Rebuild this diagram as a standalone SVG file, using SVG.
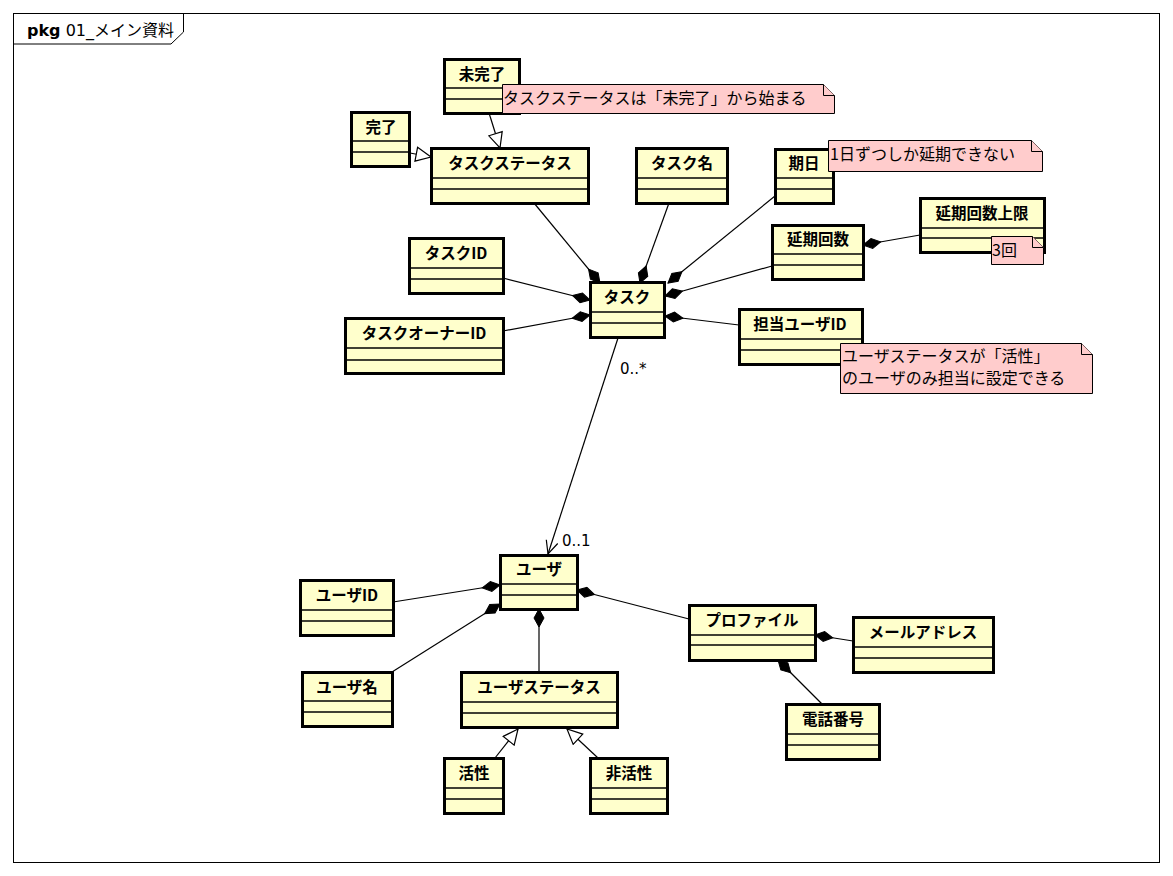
<svg xmlns="http://www.w3.org/2000/svg" width="1173" height="876" viewBox="0 0 1173 876">
  <style>
    .frame { fill: #ffffff; stroke: #000000; stroke-width: 1; }
    .cls rect { fill: #ffffcc; stroke: #000000; stroke-width: 3; }
    .cls line { stroke: #000000; stroke-width: 1.5; }
    .cls text { font-family: "Noto Sans CJK JP", "DejaVu Sans", sans-serif; font-weight: bold; font-size: 15.5px; text-anchor: middle; fill: #000000; }
    .note path { fill: #ffcccc; stroke: #000000; stroke-width: 1; }
    .note text { font-family: "Noto Sans CJK JP", "DejaVu Sans", sans-serif; font-size: 16px; fill: #000000; }
    .conn path { fill: none; stroke: #000000; stroke-width: 1.2; }
    .mult { font-family: "DejaVu Sans", "Noto Sans CJK JP", sans-serif; font-size: 15px; fill: #000000; }
    .title { font-family: "DejaVu Sans", "Noto Sans CJK JP", sans-serif; font-size: 16px; fill: #000000; }
  </style>
  <defs>
    <marker id="diamond" markerUnits="userSpaceOnUse" markerWidth="20" markerHeight="12" refX="19" refY="6" orient="auto">
      <path d="M1,6 L10,1 L19,6 L10,11 z" fill="#000000" stroke="#000000" stroke-width="1"/>
    </marker>
    <marker id="gen" markerUnits="userSpaceOnUse" markerWidth="18" markerHeight="16" refX="16" refY="8" orient="auto">
      <path d="M1,1 L16,8 L1,15 z" fill="#ffffff" stroke="#000000" stroke-width="1.2"/>
    </marker>
    <marker id="open" markerUnits="userSpaceOnUse" markerWidth="16" markerHeight="14" refX="14" refY="7" orient="auto">
      <path d="M1,1 L14,7 L1,13" fill="none" stroke="#000000" stroke-width="1.2"/>
    </marker>
  </defs>

  <!-- package frame -->
  <g id="package">
    <rect class="frame" x="13.5" y="13.5" width="1146" height="849"/>
    <path d="M13.5,44 L171,44 L183.5,32 L183.5,13.5" fill="none" stroke="#000000" stroke-width="1"/>
    <text class="title" x="27" y="36"><tspan font-weight="bold">pkg</tspan> 01_メイン資料</text>
  </g>

  <!-- connectors -->
  <g id="connectors" class="conn">
    <!-- generalizations -->
    <path d="M489,113 L500,148" marker-end="url(#gen)"/>
    <path d="M410,153 L431,157" marker-end="url(#gen)"/>
    <path d="M495,758 L518,729" marker-end="url(#gen)"/>
    <path d="M598,758 L567,729" marker-end="url(#gen)"/>
    <!-- compositions into タスク -->
    <path d="M534,203 L600,283" marker-end="url(#diamond)"/>
    <path d="M669,203 L640,283" marker-end="url(#diamond)"/>
    <path d="M775,196 L668,283" marker-end="url(#diamond)"/>
    <path d="M772,266 L665,296" marker-end="url(#diamond)"/>
    <path d="M739,325 L665,316" marker-end="url(#diamond)"/>
    <path d="M503,278 L590,300" marker-end="url(#diamond)"/>
    <path d="M503,331 L590,315" marker-end="url(#diamond)"/>
    <!-- 延期回数上限 into 延期回数 -->
    <path d="M920,235 L863,245" marker-end="url(#diamond)"/>
    <!-- タスク to ユーザ association -->
    <path d="M618,338 L548,554" marker-end="url(#open)"/>
    <!-- compositions into ユーザ -->
    <path d="M393,602 L500,585" marker-end="url(#diamond)"/>
    <path d="M392,672 L500,604" marker-end="url(#diamond)"/>
    <path d="M539,672 L539,609" marker-end="url(#diamond)"/>
    <path d="M689,619 L577,590" marker-end="url(#diamond)"/>
    <!-- compositions into プロファイル -->
    <path d="M853,641 L815,635" marker-end="url(#diamond)"/>
    <path d="M822,704 L778,660" marker-end="url(#diamond)"/>
  </g>
  <text class="mult" x="620" y="374">0..*</text>
  <text class="mult" x="562" y="546">0..1</text>

  <!-- classes -->
  <g id="mikanryo" class="cls">
    <rect x="444.5" y="59.5" width="75" height="54"/>
    <line x1="444" y1="88" x2="519" y2="88"/><line x1="444" y1="99" x2="519" y2="99"/>
    <text x="482" y="80">未完了</text>
  </g>
  <g id="kanryo" class="cls">
    <rect x="351.5" y="112.5" width="58" height="54"/>
    <line x1="351" y1="141" x2="409" y2="141"/><line x1="351" y1="152" x2="409" y2="152"/>
    <text x="381" y="133">完了</text>
  </g>
  <g id="task-status" class="cls">
    <rect x="431.5" y="148.5" width="157" height="55"/>
    <line x1="431" y1="178" x2="588" y2="178"/><line x1="431" y1="189" x2="588" y2="189"/>
    <text x="510" y="169">タスクステータス</text>
  </g>
  <g id="task-name" class="cls">
    <rect x="636.5" y="148.5" width="91" height="55"/>
    <line x1="636" y1="178" x2="727" y2="178"/><line x1="636" y1="189" x2="727" y2="189"/>
    <text x="682" y="169">タスク名</text>
  </g>
  <g id="kijitsu" class="cls">
    <rect x="775.5" y="149.5" width="58" height="54"/>
    <line x1="775" y1="178" x2="833" y2="178"/><line x1="775" y1="189" x2="833" y2="189"/>
    <text x="804" y="169">期日</text>
  </g>
  <g id="enki-limit" class="cls">
    <rect x="920.5" y="198.5" width="124" height="54"/>
    <line x1="920" y1="228" x2="1044" y2="228"/><line x1="920" y1="238" x2="1044" y2="238"/>
    <text x="982" y="219">延期回数上限</text>
  </g>
  <g id="enki-count" class="cls">
    <rect x="772.5" y="225.5" width="91" height="54"/>
    <line x1="772" y1="254" x2="863" y2="254"/><line x1="772" y1="265" x2="863" y2="265"/>
    <text x="818" y="245">延期回数</text>
  </g>
  <g id="task-id" class="cls">
    <rect x="409.5" y="238.5" width="94" height="55"/>
    <line x1="409" y1="268" x2="503" y2="268"/><line x1="409" y1="279" x2="503" y2="279"/>
    <text x="456" y="259">タスクID</text>
  </g>
  <g id="task-owner-id" class="cls">
    <rect x="345.5" y="318.5" width="158" height="55"/>
    <line x1="345" y1="348" x2="503" y2="348"/><line x1="345" y1="360" x2="503" y2="360"/>
    <text x="424" y="339">タスクオーナーID</text>
  </g>
  <g id="task" class="cls">
    <rect x="590.5" y="282.5" width="74" height="55"/>
    <line x1="590" y1="312" x2="664" y2="312"/><line x1="590" y1="323" x2="664" y2="323"/>
    <text x="627" y="303">タスク</text>
  </g>
  <g id="assignee-id" class="cls">
    <rect x="739.5" y="309.5" width="123" height="55"/>
    <line x1="739" y1="339" x2="862" y2="339"/><line x1="739" y1="350" x2="862" y2="350"/>
    <text x="800" y="330">担当ユーザID</text>
  </g>
  <g id="user" class="cls">
    <rect x="500.5" y="555.5" width="77" height="54"/>
    <line x1="500" y1="584" x2="577" y2="584"/><line x1="500" y1="595" x2="577" y2="595"/>
    <text x="539" y="575">ユーザ</text>
  </g>
  <g id="user-id" class="cls">
    <rect x="300.5" y="580.5" width="93" height="55"/>
    <line x1="300" y1="610" x2="393" y2="610"/><line x1="300" y1="621" x2="393" y2="621"/>
    <text x="347" y="601">ユーザID</text>
  </g>
  <g id="user-name" class="cls">
    <rect x="302.5" y="672.5" width="90" height="54"/>
    <line x1="302" y1="701" x2="392" y2="701"/><line x1="302" y1="712" x2="392" y2="712"/>
    <text x="347" y="693">ユーザ名</text>
  </g>
  <g id="user-status" class="cls">
    <rect x="461.5" y="672.5" width="156" height="55"/>
    <line x1="461" y1="702" x2="617" y2="702"/><line x1="461" y1="713" x2="617" y2="713"/>
    <text x="539" y="693">ユーザステータス</text>
  </g>
  <g id="profile" class="cls">
    <rect x="689.5" y="605.5" width="126" height="55"/>
    <line x1="689" y1="635" x2="815" y2="635"/><line x1="689" y1="645" x2="815" y2="645"/>
    <text x="752" y="626">プロファイル</text>
  </g>
  <g id="mail" class="cls">
    <rect x="853.5" y="617.5" width="140" height="55"/>
    <line x1="853" y1="647" x2="993" y2="647"/><line x1="853" y1="658" x2="993" y2="658"/>
    <text x="923" y="638">メールアドレス</text>
  </g>
  <g id="phone" class="cls">
    <rect x="786.5" y="704.5" width="93" height="55"/>
    <line x1="786" y1="734" x2="879" y2="734"/><line x1="786" y1="745" x2="879" y2="745"/>
    <text x="833" y="725">電話番号</text>
  </g>
  <g id="active" class="cls">
    <rect x="444.5" y="758.5" width="59" height="55"/>
    <line x1="444" y1="788" x2="503" y2="788"/><line x1="444" y1="799" x2="503" y2="799"/>
    <text x="474" y="779">活性</text>
  </g>
  <g id="inactive" class="cls">
    <rect x="590.5" y="758.5" width="77" height="55"/>
    <line x1="590" y1="788" x2="667" y2="788"/><line x1="590" y1="799" x2="667" y2="799"/>
    <text x="629" y="779">非活性</text>
  </g>

  <!-- notes -->
  <g id="note-status-start" class="note">
    <path d="M502.5,84.5 L823.5,84.5 L834.5,95.5 L834.5,113.5 L502.5,113.5 z"/>
    <path d="M823.5,84.5 L823.5,95.5 L834.5,95.5"/>
    <text x="503" y="104">タスクステータスは「未完了」から始まる</text>
  </g>
  <g id="note-one-day" class="note">
    <path d="M828.5,140.5 L1031.5,140.5 L1042.5,151.5 L1042.5,171.5 L828.5,171.5 z"/>
    <path d="M1031.5,140.5 L1031.5,151.5 L1042.5,151.5"/>
    <text x="830" y="160">1日ずつしか延期できない</text>
  </g>
  <g id="note-three" class="note">
    <path d="M991.5,236.5 L1032.5,236.5 L1043.5,247.5 L1043.5,264.5 L991.5,264.5 z"/>
    <path d="M1032.5,236.5 L1032.5,247.5 L1043.5,247.5"/>
    <text x="992" y="256">3回</text>
  </g>
  <g id="note-assignee" class="note">
    <path d="M840.5,343.5 L1081.5,343.5 L1092.5,354.5 L1092.5,393.5 L840.5,393.5 z"/>
    <path d="M1081.5,343.5 L1081.5,354.5 L1092.5,354.5"/>
    <text x="842" y="362">ユーザステータスが「活性」</text>
    <text x="842" y="384">のユーザのみ担当に設定できる</text>
  </g>
</svg>
